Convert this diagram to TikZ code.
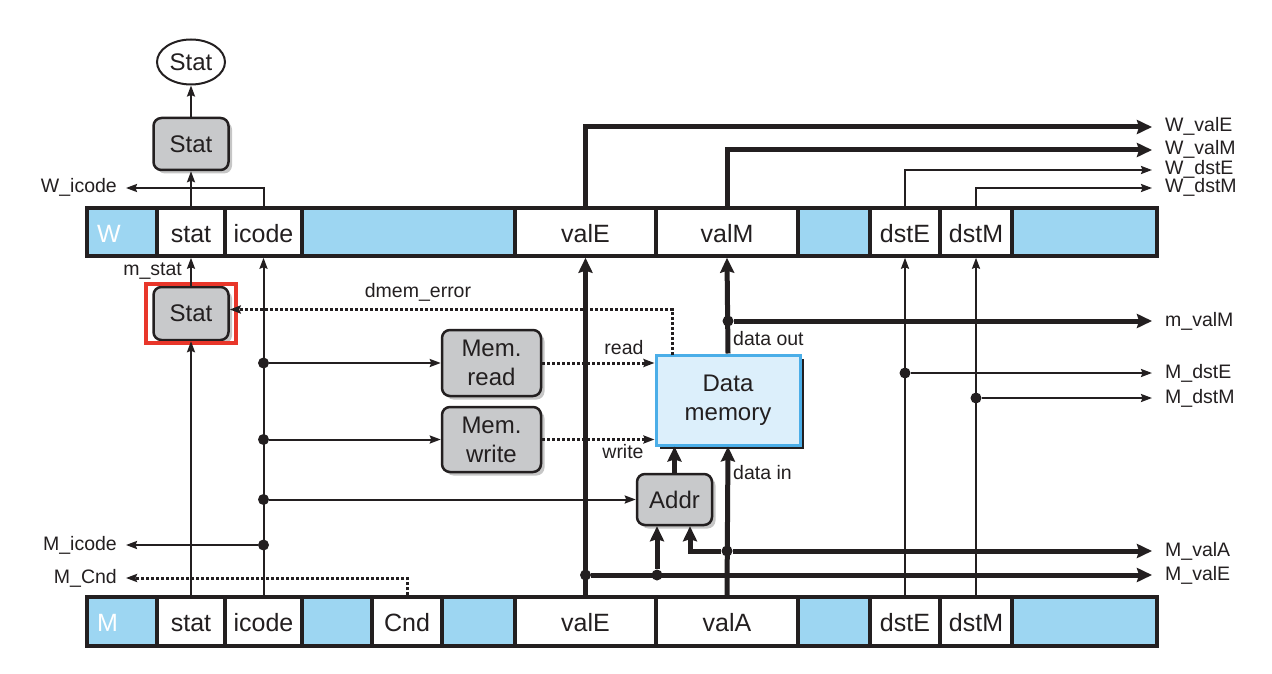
\documentclass[tikz,border=0pt]{standalone}
\usepackage{fontspec}
\setmainfont{Liberation Sans}
\usetikzlibrary{arrows.meta,shadows,fit,shapes.geometric}
\definecolor{regblue}{RGB}{157,214,242}
\definecolor{boxgray}{RGB}{200,201,203}
\definecolor{memblue}{RGB}{220,239,251}
\definecolor{memedge}{RGB}{75,174,232}
\definecolor{ink}{RGB}{35,31,32}
\definecolor{hired}{RGB}{232,54,42}
\tikzset{
    cell/.style={draw=ink, line width=3.5pt, fill=white, inner sep=0pt, minimum height=48pt,
        text=ink, text height=20pt, text depth=0pt, font=\fontsize{25}{25}\selectfont},
    bluecell/.style={cell, fill=regblue, text=white},
    logic/.style={draw=ink, line width=2.5pt, rounded corners=8pt, fill=boxgray, align=center,
        text=ink, inner sep=0pt, font=\fontsize{24}{29}\selectfont,
        drop shadow={shadow xshift=3.5pt, shadow yshift=-3.5pt, fill=gray!45, opacity=1}},
    sig/.style={font=\fontsize{19.5}{20}\selectfont, text=ink, inner ysep=0pt, inner xsep=0pt,
        text height=14pt, text depth=4pt},
    lsig/.style={sig, anchor=east, inner xsep=9pt},
    rsig/.style={sig, anchor=west, inner xsep=13pt},
    wire/.style={draw=ink, line width=2pt},
    bus/.style={draw=ink, line width=5pt},
    arr/.style={-{Stealth[length=11pt, width=8pt, inset=1.5pt]}},
    bigarr/.style={-{Stealth[length=15pt, width=14pt, inset=2pt]}},
    ctrl/.style={draw=ink, line width=3pt, dash pattern=on 3pt off 2pt},
    junct/.style={circle, fill=ink, inner sep=0pt, minimum size=11pt}
}
\begin{document}
\begin{tikzpicture}[x=1pt, y=-1pt]
    \useasboundingbox (0,0) rectangle (1272,674);

    % W register
    \node[bluecell, minimum width=70pt, text width=50pt, align=left] (W-W) at (122,232) {W};
    \node[cell, minimum width=68pt] (W-stat) at (191,232) {stat};
    \node[cell, minimum width=77pt] (W-icode) at (263.5,232) {icode};
    \node[bluecell, minimum width=213pt] (W-b1) at (408.5,232) {};
    \node[cell, minimum width=141pt] (W-valE) at (585.5,232) {valE};
    \node[cell, minimum width=142pt] (W-valM) at (727,232) {valM};
    \node[bluecell, minimum width=72pt] (W-b2) at (834,232) {};
    \node[cell, minimum width=70pt] (W-dstE) at (905,232) {dstE};
    \node[cell, minimum width=72pt] (W-dstM) at (976,232) {dstM};
    \node[bluecell, minimum width=145pt] (W-b3) at (1084.5,232) {};

    % M register
    \node[bluecell, minimum width=70pt, minimum height=49pt, text width=50pt, align=left] (M-M) at (122,621.5) {M};
    \node[cell, minimum width=68pt, minimum height=49pt] (M-stat) at (191,621.5) {stat};
    \node[cell, minimum width=77pt, minimum height=49pt] (M-icode) at (263.5,621.5) {icode};
    \node[bluecell, minimum width=70pt, minimum height=49pt] (M-b1) at (337,621.5) {};
    \node[cell, minimum width=70pt, minimum height=49pt] (M-Cnd) at (407,621.5) {Cnd};
    \node[bluecell, minimum width=73pt, minimum height=49pt] (M-b2) at (478.5,621.5) {};
    \node[cell, minimum width=141pt, minimum height=49pt] (M-valE) at (585.5,621.5) {valE};
    \node[cell, minimum width=142pt, minimum height=49pt] (M-valA) at (727,621.5) {valA};
    \node[bluecell, minimum width=72pt, minimum height=49pt] (M-b3) at (834,621.5) {};
    \node[cell, minimum width=70pt, minimum height=49pt] (M-dstE) at (905,621.5) {dstE};
    \node[cell, minimum width=72pt, minimum height=49pt] (M-dstM) at (976,621.5) {dstM};
    \node[bluecell, minimum width=145pt, minimum height=49pt] (M-b4) at (1084.5,621.5) {};

    % logic blocks
    \node[draw=ink, line width=2pt, ellipse, inner sep=0pt, minimum width=68pt, minimum height=45pt,
        text=ink, font=\fontsize{24}{24}\selectfont] (stat-out) at (191,62) {Stat};
    \node[logic, minimum width=75pt, minimum height=52pt] (stat-w) at (191,144) {Stat};
    \node[logic, minimum width=75pt, minimum height=53pt] (stat-m) at (191,313.5) {Stat};
    \node[draw=hired, line width=4pt, inner xsep=6pt, inner ysep=2pt, fit=(stat-m)] (hilite) {};
    \node[logic, minimum width=99pt, minimum height=66pt] (memrd) at (491.5,363) {Mem.\\read};
    \node[logic, minimum width=99pt, minimum height=65pt] (memwr) at (491.5,439.5) {Mem.\\write};
    \node[draw=memedge, line width=3pt, fill=memblue, minimum width=144pt, minimum height=90pt,
        align=center, text=ink, font=\fontsize{24}{29}\selectfont,
        drop shadow={shadow xshift=4pt, shadow yshift=-4pt, fill=ink, opacity=1}] (dmem) at (728,400) {Data\\memory};
    \node[logic, minimum width=75pt, minimum height=51pt] (addr) at (674.5,499.5) {Addr};

    % signal names
    \node[lsig] (l-Wicode) at (126,188) {W\_icode};
    \node[lsig] (l-Micode) at (126,545) {M\_icode};
    \node[lsig] (l-Mcnd) at (126,578) {M\_Cnd};
    \node[sig, anchor=east] (l-mstat) at (182,270) {m\_stat};
    \node[sig] (l-err) at (418,292) {dmem\_error};
    \node[sig] (l-read) at (624,349) {read};
    \node[sig] (l-write) at (623,453) {write};
    \node[sig, anchor=west] (l-out) at (733,340) {data out};
    \node[sig, anchor=west] (l-in) at (733,474) {data in};
    \node[rsig] (l-WvalE) at (1152,127) {W\_valE};
    \node[rsig] (l-WvalM) at (1152,150) {W\_valM};
    \node[rsig] (l-WdstE) at (1152,170) {W\_dstE};
    \node[rsig] (l-WdstM) at (1152,188) {W\_dstM};
    \node[rsig] (l-mvalM) at (1152,321) {m\_valM};
    \node[rsig] (l-MdstE) at (1152,373) {M\_dstE};
    \node[rsig] (l-MdstM) at (1152,398) {M\_dstM};
    \node[rsig] (l-MvalA) at (1152,551) {M\_valA};
    \node[rsig] (l-MvalE) at (1152,575) {M\_valE};

    % junctions
    \node[junct] (j-rd) at (M-icode |- memrd) {};
    \node[junct] (j-wr) at (M-icode |- memwr) {};
    \node[junct] (j-ad) at (M-icode |- addr) {};
    \node[junct] (j-ic) at (M-icode |- l-Micode) {};
    \node[junct] (j-out) at (dmem |- l-mvalM) {};
    \node[junct] (j-dE) at (M-dstE |- l-MdstE) {};
    \node[junct] (j-dM) at (M-dstM |- l-MdstM) {};
    \node[junct] (j-vA) at (M-valA |- l-MvalA) {};
    \node[junct] (j-vE1) at (M-valE |- l-MvalE) {};
    \node[junct] (j-vE2) at (657,575) {};
    \coordinate (err-src) at (672,355);

    % status path
    \draw[wire, arr] (W-stat.north) -- (stat-w.south);
    \draw[wire, arr] (stat-w.north) -- (stat-out.south);
    \draw[wire, arr] (W-icode.north) |- (l-Wicode);
    \draw[wire, arr] (stat-m.north) -- (W-stat.south);
    \draw[wire, arr] (M-stat.north) -- (stat-m.south);
    \draw[ctrl, arr] (err-src) |- ([yshift=4pt]stat-m.east);

    % icode and control
    \draw[wire, arr] (M-icode.north) -- (W-icode.south);
    \draw[wire, arr] (j-rd) -- (memrd);
    \draw[wire, arr] (j-wr) -- (memwr);
    \draw[wire, arr] (j-ad) -- (addr);
    \draw[wire, arr] (j-ic) -- (l-Micode);
    \draw[ctrl, arr] (M-Cnd.north) |- (l-Mcnd);
    \draw[ctrl, arr] (memrd) -- (dmem.west |- memrd);
    \draw[ctrl, arr] (memwr) -- (dmem.west |- memwr);

    % data buses
    \draw[bus, bigarr] (M-valE.north) -- (W-valE.south);
    \draw[bus, bigarr] (W-valE.north) |- (l-WvalE);
    \draw[bus, bigarr] (dmem.north) -- (W-valM.south);
    \draw[bus, bigarr] (W-valM.north) |- (l-WvalM);
    \draw[bus, bigarr] (j-out) -- (l-mvalM);
    \draw[bus, bigarr] (M-valA.north) -- (dmem.south);
    \draw[bus, bigarr] (j-vA) -- (l-MvalA);
    \draw[bus, bigarr] (j-vA) -| ([xshift=15.5pt]addr.south);
    \draw[bus, bigarr] (j-vE1) -- (l-MvalE);
    \draw[bus, bigarr] (j-vE2) -- ([xshift=-17.5pt]addr.south);
    \draw[bus, bigarr] (addr.north) -- (addr.north |- dmem.south);

    % destination registers
    \draw[wire, arr] (W-dstE.north) |- (l-WdstE);
    \draw[wire, arr] (W-dstM.north) |- (l-WdstM);
    \draw[wire, arr] (M-dstE.north) -- (W-dstE.south);
    \draw[wire, arr] (M-dstM.north) -- (W-dstM.south);
    \draw[wire, arr] (j-dE) -- (l-MdstE);
    \draw[wire, arr] (j-dM) -- (l-MdstM);

\end{tikzpicture}
\end{document}
